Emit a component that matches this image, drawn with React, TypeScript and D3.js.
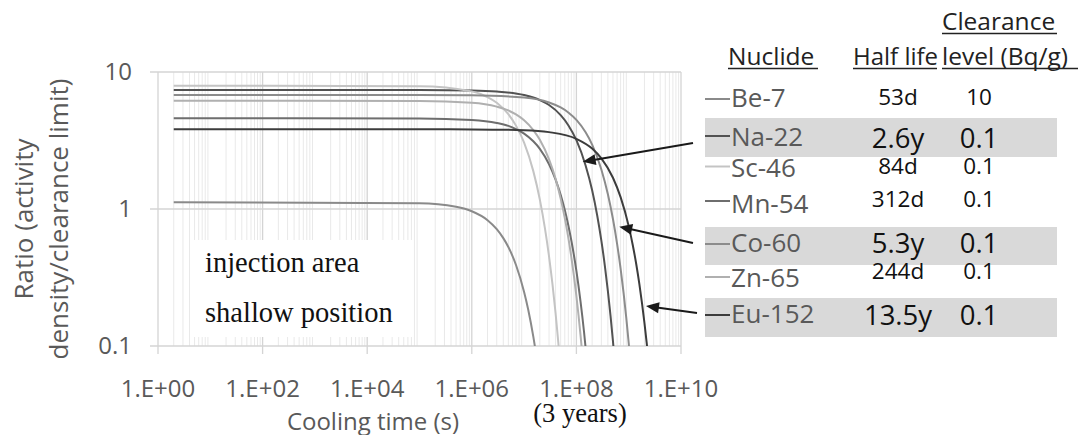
import React from 'react';
import * as d3 from 'd3';

// ---------- data ----------
const nuclides = ['Be-7', 'Na-22', 'Sc-46', 'Mn-54', 'Co-60', 'Zn-65', 'Eu-152'];
const halfLives = ['53d', '2.6y', '84d', '312d', '5.3y', '244d', '13.5y'];
const clearanceLevels = ['10', '0.1', '0.1', '0.1', '0.1', '0.1', '0.1'];
const highlightedRows = ['Na-22', 'Co-60', 'Eu-152'];

// [cooling time (s), ratio]
const be7Ratio: [number, number][] = [
  [2, 1.12], [1e5, 1.103], [5e5, 1.038], [1e6, 0.963], [2e6, 0.829], [3e6, 0.713], [4e6, 0.613],
  [5e6, 0.528], [7e6, 0.39], [1e7, 0.248], [1.2e7, 0.184], [1.5e7, 0.117], [1.8e7, 0.0744], [2.2e7, 0.0407],
];
const na22Ratio: [number, number][] = [
  [2, 7.39], [1e5, 7.38], [1e6, 7.33], [3e6, 7.21], [1e7, 6.79], [2e7, 6.24], [3e7, 5.74], [5e7, 4.84],
  [7e7, 4.09], [1e8, 3.18], [1.5e8, 2.08], [2e8, 1.37], [2.5e8, 0.896], [3e8, 0.587], [3.5e8, 0.385],
  [4e8, 0.252], [4.5e8, 0.1654], [5e8, 0.1085], [5.5e8, 0.0711], [6e8, 0.0466],
];
const sc46Ratio: [number, number][] = [
  [2, 7.94], [1e5, 7.86], [1e6, 7.22], [2e6, 6.56], [3e6, 5.96], [5e6, 4.92], [7e6, 4.06], [1e7, 3.05],
  [1.5e7, 1.89], [2e7, 1.17], [2.5e7, 0.725], [3e7, 0.45], [3.5e7, 0.279], [4e7, 0.173], [4.5e7, 0.107],
  [5e7, 0.0662], [5.5e7, 0.041],
];
const mn54Ratio: [number, number][] = [
  [2, 4.59], [1e5, 4.58], [1e6, 4.47], [3e6, 4.25], [5e6, 4.04], [7e6, 3.83], [1e7, 3.55], [1.5e7, 3.12],
  [2e7, 2.75], [3e7, 2.12], [4e7, 1.64], [5e7, 1.27], [6e7, 0.985], [7e7, 0.762], [8e7, 0.589],
  [1e8, 0.353], [1.2e8, 0.211], [1.4e8, 0.1265], [1.6e8, 0.0757], [1.8e8, 0.0452],
];
const co60Ratio: [number, number][] = [
  [2, 6.79], [1e5, 6.79], [1e6, 6.76], [1e7, 6.51], [3e7, 5.99], [5e7, 5.51], [7e7, 5.07], [1e8, 4.47],
  [1.5e8, 3.63], [2e8, 2.95], [3e8, 1.94], [4e8, 1.28], [5e8, 0.845], [6e8, 0.557], [7e8, 0.367],
  [8e8, 0.242], [9e8, 0.16], [1e9, 0.1052], [1.1e9, 0.0694], [1.2e9, 0.0457],
];
const zn65Ratio: [number, number][] = [
  [2, 6.17], [1e5, 6.15], [1e6, 5.97], [3e6, 5.59], [5e6, 5.24], [7e6, 4.9], [1e7, 4.44], [1.5e7, 3.77],
  [2e7, 3.2], [3e7, 2.3], [4e7, 1.66], [5e7, 1.19], [6e7, 0.859], [7e7, 0.618], [8e7, 0.446],
  [9e7, 0.321], [1e8, 0.231], [1.1e8, 0.1664], [1.2e8, 0.1197], [1.3e8, 0.0862], [1.5e8, 0.0447],
];
const eu152Ratio: [number, number][] = [
  [2, 3.82], [1e5, 3.82], [1e6, 3.81], [1e7, 3.76], [3e7, 3.64], [1e8, 3.25], [2e8, 2.76], [3e8, 2.34],
  [5e8, 1.69], [7e8, 1.22], [1e9, 0.75], [1.2e9, 0.542], [1.4e9, 0.392], [1.6e9, 0.283], [1.8e9, 0.204],
  [2e9, 0.1477], [2.2e9, 0.1067], [2.4e9, 0.0771], [2.6e9, 0.0557], [2.8e9, 0.0402],
];
const seriesData = [be7Ratio, na22Ratio, sc46Ratio, mn54Ratio, co60Ratio, zn65Ratio, eu152Ratio];

const xTickValues = [1, 1e2, 1e4, 1e6, 1e8, 1e10];
const xTickLabels = ['1.E+00', '1.E+02', '1.E+04', '1.E+06', '1.E+08', '1.E+10'];
const yTickValues = [0.1, 1, 10];
const yTickLabels = ['0.1', '1', '10'];

// arrows: nuclide -> point on its curve [time, ratio]
const arrowNuclides = ['Na-22', 'Co-60', 'Eu-152'];
const arrowTargets: [number, number][] = [[1.32e8, 2.21], [6.6e8, 0.743], [2.14e9, 0.196]];

// ---------- styles / layout ----------
const seriesColors = ['#8a8a8a', '#525252', '#c4c4c4', '#6e6e6e', '#8c8c8c', '#b0b0b0', '#3c3c3c'];
const SANS = "'Open Sans', 'Noto Sans', sans-serif";
const SERIF = "'Liberation Serif', 'Times New Roman', serif";
const W = 1082;
const H = 435;
const plot = { left: 158, right: 681, top: 72, bottom: 346 };

const rowSwatchY = [99, 136, 166.5, 201, 244, 277, 315];
const rowNameY = [107, 146, 176.5, 213, 252, 287, 323];
const rowValueY = [105, 147.5, 174, 206.5, 253, 279, 325];
const rowBands: Record<string, [number, number]> = {
  'Na-22': [118, 157],
  'Co-60': [227, 265],
  'Eu-152': [298, 337],
};
const arrowStart: Record<string, [number, number]> = {
  'Na-22': [693, 143],
  'Co-60': [693, 243],
  'Eu-152': [697, 313],
};

export default function App() {
  const x = d3.scaleLog().domain([1, 1e10]).range([plot.left, plot.right]);
  const y = d3.scaleLog().domain([0.1, 10]).range([plot.bottom, plot.top]);

  const line = d3
    .line<[number, number]>()
    .x((d) => x(d[0]))
    .y((d) => y(d[1]))
    .curve(d3.curveMonotoneX);

  const minorX: number[] = [];
  for (let n = 0; n < 10; n++) {
    for (let k = 2; k <= 9; k++) minorX.push(k * Math.pow(10, n));
  }

  const arrowEls = arrowNuclides.map((name, i) => {
    const [tt, rr] = arrowTargets[i];
    const tx = x(tt);
    const ty = y(rr);
    const [sx, sy] = arrowStart[name];
    const dx = tx - sx;
    const dy = ty - sy;
    const len = Math.sqrt(dx * dx + dy * dy);
    const ux = dx / len;
    const uy = dy / len;
    const hl = 13;
    const hw = 5.5;
    const bx = tx - ux * hl;
    const by = ty - uy * hl;
    const p1 = [bx - uy * hw, by + ux * hw];
    const p2 = [bx + uy * hw, by - ux * hw];
    return (
      <g key={name}>
        <line x1={sx} y1={sy} x2={bx + ux * 2} y2={by + uy * 2} stroke="#1a1a1a" strokeWidth={2} />
        <polygon points={`${tx},${ty} ${p1[0]},${p1[1]} ${p2[0]},${p2[1]}`} fill="#1a1a1a" />
      </g>
    );
  });

  return (
    <svg
      width={W}
      height={H}
      viewBox={`0 0 ${W} ${H}`}
      style={{ position: 'absolute', left: 0, top: 0, background: '#fff' }}
    >
      <defs>
        <clipPath id="plotClip">
          <rect x={plot.left} y={plot.top} width={plot.right - plot.left} height={plot.bottom - plot.top} />
        </clipPath>
      </defs>
      <rect x={0} y={0} width={W} height={H} fill="#fff" />

      {/* minor vertical gridlines */}
      {minorX.map((v) => (
        <line key={'mx' + v} x1={x(v)} x2={x(v)} y1={plot.top} y2={plot.bottom} stroke="#e9e9e9" strokeWidth={1} />
      ))}
      {/* major gridlines */}
      {xTickValues.map((v) => (
        <line key={'gx' + v} x1={x(v)} x2={x(v)} y1={plot.top} y2={plot.bottom + 8} stroke="#d4d4d4" strokeWidth={1.3} />
      ))}
      {yTickValues.map((v) => (
        <line key={'gy' + v} x1={plot.left - 8} x2={plot.right} y1={y(v)} y2={y(v)} stroke="#d4d4d4" strokeWidth={1.3} />
      ))}

      {/* text box */}
      <rect x={190} y={240} width={223} height={97} fill="#fff" />
      <text x={205} y={272} fontFamily={SERIF} fontSize={28.5} fill="#111">injection area</text>
      <text x={205} y={322} fontFamily={SERIF} fontSize={28.5} fill="#111">shallow position</text>

      {/* series */}
      <g clipPath="url(#plotClip)">
        {seriesData.map((s, i) => (
          <path key={nuclides[i]} d={line(s) || ''} fill="none" stroke={seriesColors[i]} strokeWidth={2} />
        ))}
      </g>

      {/* axis tick labels */}
      {yTickValues.map((v, i) => (
        <text key={'yl' + v} x={132} y={y(v)} dy="0.35em" textAnchor="end" fontFamily={SANS} fontSize={24} fill="#595959">
          {yTickLabels[i]}
        </text>
      ))}
      {xTickValues.map((v, i) => (
        <text key={'xl' + v} x={x(v)} y={397} textAnchor="middle" fontFamily={SANS} fontSize={24} fill="#595959">
          {xTickLabels[i]}
        </text>
      ))}

      {/* axis titles */}
      <text transform="translate(33,219) rotate(-90)" textAnchor="middle" fontFamily={SANS} fontSize={26} fill="#595959">
        Ratio (activity
      </text>
      <text transform="translate(68,219) rotate(-90)" textAnchor="middle" fontFamily={SANS} fontSize={26} fill="#595959">
        density/clearance limit)
      </text>
      <text x={373} y={430} textAnchor="middle" fontFamily={SANS} fontSize={24} fill="#595959">
        Cooling time (s)
      </text>
      <text x={580} y={422} textAnchor="middle" fontFamily={SERIF} fontSize={26.5} fill="#111">
        (3 years)
      </text>

      {/* legend table */}
      {nuclides.map((name) =>
        rowBands[name] ? (
          <rect key={'band' + name} x={705} y={rowBands[name][0]} width={352} height={rowBands[name][1] - rowBands[name][0]} fill="#d9d9d9" />
        ) : null
      )}
      <text x={728} y={65} fontFamily={SANS} fontSize={24.5} fill="#222">Nuclide</text>
      <line x1={728} x2={818} y1={68.5} y2={68.5} stroke="#222" strokeWidth={1.3} />
      <text x={853} y={65} fontFamily={SANS} fontSize={24} fill="#222">Half life</text>
      <line x1={853} x2={937} y1={68.5} y2={68.5} stroke="#222" strokeWidth={1.3} />
      <text x={942} y={30} fontFamily={SANS} fontSize={24.5} fill="#222">Clearance</text>
      <line x1={942} x2={1057} y1={33.5} y2={33.5} stroke="#222" strokeWidth={1.3} />
      <text x={942} y={65} fontFamily={SANS} fontSize={24.5} fill="#222">level (Bq/g)</text>
      <line x1={942} x2={1078} y1={68.5} y2={68.5} stroke="#222" strokeWidth={1.3} />

      {nuclides.map((name, i) => {
        const big = highlightedRows.includes(name);
        return (
          <g key={'row' + name}>
            <line x1={705} x2={730} y1={rowSwatchY[i]} y2={rowSwatchY[i]} stroke={seriesColors[i]} strokeWidth={2} />
            <text x={731} y={rowNameY[i]} fontFamily={SANS} fontSize={26} fill="#595959">{name}</text>
            <text x={898} y={rowValueY[i]} textAnchor="middle" fontFamily={SANS} fontSize={big ? 27.5 : 22.5} fill="#111">
              {halfLives[i]}
            </text>
            <text x={979} y={rowValueY[i]} textAnchor="middle" fontFamily={SANS} fontSize={big ? 27.5 : 22.5} fill="#111">
              {clearanceLevels[i]}
            </text>
          </g>
        );
      })}

      {/* arrows */}
      {arrowEls}
    </svg>
  );
}
